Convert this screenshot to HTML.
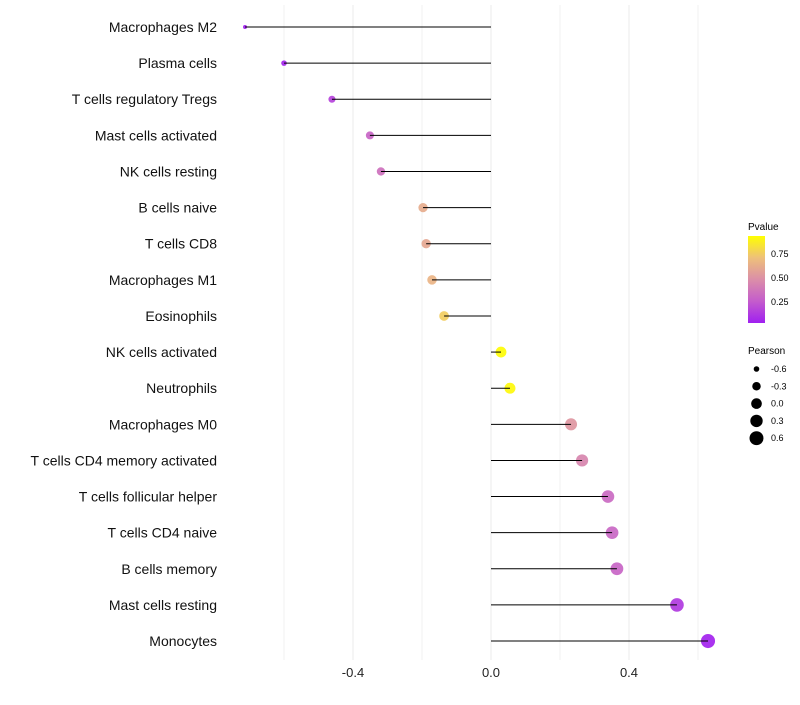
<!DOCTYPE html>
<html><head><meta charset="utf-8"><style>
body{margin:0;background:#fff;font-family:"Liberation Sans",sans-serif}
</style></head><body>
<svg id="chart" width="800" height="700" xmlns="http://www.w3.org/2000/svg">
<defs><linearGradient id="pg" x1="0" y1="1" x2="0" y2="0">
<stop offset="0" stop-color="#a020f0"/><stop offset="0.25" stop-color="#c45ccc"/><stop offset="0.5" stop-color="#db8ea8"/><stop offset="0.75" stop-color="#eec07a"/><stop offset="1" stop-color="#ffff00"/></linearGradient></defs>
<g id="grid"></g><g id="dots"></g><g id="marks"></g><g id="labels"></g>
<g font-size="9">
<text x="748" y="230" font-size="10">Pvalue</text>
<rect x="748" y="236" width="17" height="87" fill="url(#pg)"/>
<text x="771" y="257">0.75</text><text x="771" y="281">0.50</text><text x="771" y="305">0.25</text>
</g>
<g font-size="9" id="plegend">
<text x="748" y="354" font-size="10">Pearson</text>
</g>
</svg>
<script>
const categories=["Macrophages M2","Plasma cells","T cells regulatory  Tregs ","Mast cells activated","NK cells resting","B cells naive","T cells CD8","Macrophages M1","Eosinophils","NK cells activated","Neutrophils","Macrophages M0","T cells CD4 memory activated","T cells follicular helper","T cells CD4 naive","B cells memory","Mast cells resting","Monocytes"];
const pearson=[-0.713,-0.6,-0.461,-0.351,-0.319,-0.197,-0.188,-0.171,-0.136,0.029,0.055,0.232,0.264,0.339,0.351,0.365,0.539,0.629];
const pvalues=[0.03,0.05,0.16,0.3,0.35,0.62,0.6,0.66,0.76,0.93,0.92,0.52,0.45,0.32,0.31,0.3,0.13,0.04];
const xTicks=[-0.4,0.0,0.4];
const legendVals=[-0.6,-0.3,0.0,0.3,0.6];
const NS="http://www.w3.org/2000/svg";
const x=v=>491+v*345;
const y=i=>27+i*36.12;
const r=v=>Math.sqrt(4+34*Math.max(0,v+0.713));
const stops=[[161,32,240],[196,92,204],[219,142,168],[238,192,122],[255,255,0]];
function col(p){let t=Math.max(0,Math.min(1,(p-0.03)/0.91))*4;let i=Math.min(3,Math.floor(t)),f=t-i;const c=stops[i].map((a,k)=>Math.round(a+(stops[i+1][k]-a)*f));return `rgb(${c})`;}
function mk(tag,attrs,parent){const e=document.createElementNS(NS,tag);for(const k in attrs)e.setAttribute(k,attrs[k]);parent.appendChild(e);return e;}
const grid=document.getElementById('grid'),marks=document.getElementById('marks'),dots=document.getElementById('dots'),labels=document.getElementById('labels');
[-0.6,-0.2,0.2,0.6].forEach(v=>{const l=mk('line',{x1:x(v),x2:x(v),y1:5,y2:660,stroke:'#f0f0f0','stroke-width':1},grid);

});
xTicks.forEach(v=>{const l=mk('line',{x1:x(v),x2:x(v),y1:5,y2:660,stroke:'#ebebeb','stroke-width':1},grid);


const t=mk('text',{x:x(v),y:677,'text-anchor':'middle','font-size':13,fill:'#222'},labels);t.textContent=v.toFixed(1);

});
categories.forEach((c,i)=>{
const d=mk('circle',{cx:x(pearson[i]),cy:y(i),r:r(pearson[i]),fill:col(pvalues[i]),'fill-opacity':0.92},dots);


const l=mk('line',{x1:x(0),x2:x(pearson[i]),y1:y(i),y2:y(i),stroke:'#000','stroke-width':1},marks);


const t=mk('text',{x:217,y:y(i)+5,'text-anchor':'end','font-size':14,fill:'#111','xml:space':'preserve'},labels);t.textContent=c;

});
const pl=document.getElementById('plegend');
legendVals.forEach((v,i)=>{const cy=369+i*17.3;
const d=mk('circle',{cx:756.5,cy:cy,r:r(v),fill:'#000'},pl);


const t=mk('text',{x:771,y:cy+3},pl);t.textContent=v.toFixed(1);

});
</script>
</body></html>
